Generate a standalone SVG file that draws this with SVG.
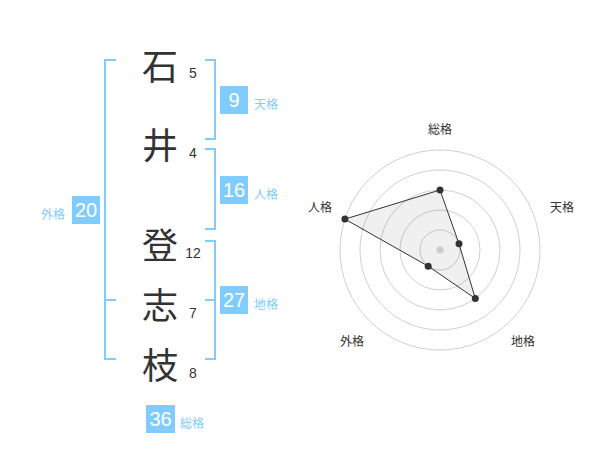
<svg xmlns="http://www.w3.org/2000/svg" width="600" height="470" viewBox="0 0 600 470">
<style>
.kanji{font-family:"Noto Sans CJK JP","Noto Sans CJK SC",sans-serif;font-size:36px;fill:#333;text-anchor:middle}
.num{font-family:"Liberation Sans",Arial,sans-serif;font-size:14px;fill:#333;text-anchor:middle}
.br{fill:none;stroke:#80ccff;stroke-width:2}
.box{fill:#80ccff}
.bv{font-family:"Liberation Sans",Arial,sans-serif;font-size:20px;fill:#fff;text-anchor:middle}
.bl{font-family:"Noto Sans CJK JP","Noto Sans CJK SC",sans-serif;font-size:12px;fill:#80ccff}
.ring{fill:none;stroke:#d0d0d0;stroke-width:1}
.axl{font-family:"Noto Sans CJK JP","Noto Sans CJK SC",sans-serif;font-size:12px;fill:#333;text-anchor:middle}
.dot{fill:#333}
</style>
<rect width="600" height="470" fill="#fff"/>
<g id="names">
<text class="kanji" x="160" y="80">石</text>
<text class="kanji" x="160" y="159">井</text>
<text class="kanji" x="160" y="259">登</text>
<text class="kanji" x="160" y="319">志</text>
<text class="kanji" x="160" y="379">枝</text>
<text class="num" x="193" y="78">5</text>
<text class="num" x="193" y="158">4</text>
<text class="num" x="193" y="258">12</text>
<text class="num" x="193" y="318">7</text>
<text class="num" x="193" y="378">8</text>
</g>
<g id="connectors">
<polyline class="br" points="116,60 105,60 105,359 116,359"/>
<line class="br" x1="105" y1="300" x2="116" y2="300"/>
<polyline class="br" points="205,60 215,60 215,139 205,139"/>
<polyline class="br" points="205,149 215,149 215,229 205,229"/>
<polyline class="br" points="205,241 215,241 215,359 205,359"/>
<line class="br" x1="205" y1="300" x2="215" y2="300"/>
</g>
<g id="tenkaku">
<rect class="box" x="220" y="86" width="28" height="28"/>
<text class="bv" x="234" y="107">9</text>
<text class="bl" x="254" y="109">天格</text>
</g>
<g id="jinkaku">
<rect class="box" x="220" y="176" width="28" height="28"/>
<text class="bv" x="234" y="197">16</text>
<text class="bl" x="254" y="199">人格</text>
</g>
<g id="chikaku">
<rect class="box" x="220" y="286" width="28" height="28"/>
<text class="bv" x="234" y="307">27</text>
<text class="bl" x="254" y="309">地格</text>
</g>
<g id="gaikaku">
<rect class="box" x="72" y="196" width="28" height="28"/>
<text class="bv" x="86" y="217">20</text>
<text class="bl" x="41" y="219">外格</text>
</g>
<g id="soukaku">
<rect class="box" x="146" y="405" width="29" height="28"/>
<text class="bv" x="160.5" y="426">36</text>
<text class="bl" x="180" y="428">総格</text>
</g>
<g id="radar">
<circle class="ring" cx="440" cy="250" r="20"/>
<circle class="ring" cx="440" cy="250" r="40"/>
<circle class="ring" cx="440" cy="250" r="60"/>
<circle class="ring" cx="440" cy="250" r="80"/>
<circle class="ring" cx="440" cy="250" r="100"/>
<polygon points="440,190 459,243.8 475.3,298.5 428.2,266.2 344.9,219.1" fill="rgba(0,0,0,0.06)" stroke="#333" stroke-width="1"/>
<circle cx="440" cy="250" r="3.5" fill="#ccc"/>
<circle class="dot" cx="440" cy="190" r="3.5"/>
<circle class="dot" cx="459" cy="243.8" r="3.5"/>
<circle class="dot" cx="475.3" cy="298.5" r="3.5"/>
<circle class="dot" cx="428.2" cy="266.2" r="3.5"/>
<circle class="dot" cx="344.9" cy="219.1" r="3.5"/>
<text class="axl" x="440" y="134">総格</text>
<text class="axl" x="562" y="212">天格</text>
<text class="axl" x="320" y="212">人格</text>
<text class="axl" x="352" y="346">外格</text>
<text class="axl" x="523" y="346">地格</text>
</g>
</svg>
